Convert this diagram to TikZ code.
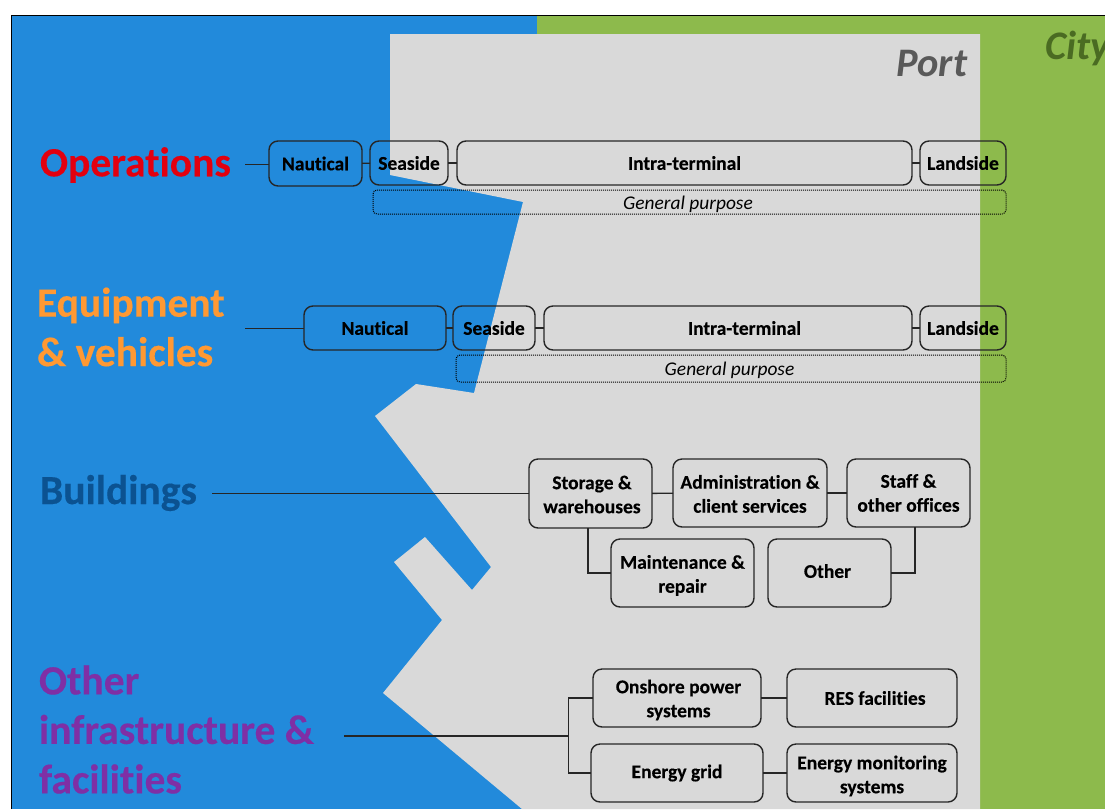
\documentclass[tikz,border=0pt]{standalone}
\usepackage{fontspec}
\setmainfont[Ligatures = NoCommon, BoldFeatures = {FakeBold = 0.3}]{Carlito}
\usepackage{tikz}
\usetikzlibrary{shapes.geometric}
\definecolor{seablue}{HTML}{228ADB}
\definecolor{citygreen}{HTML}{8DBA4C}
\definecolor{portgray}{HTML}{D9D9D9}
\definecolor{opsred}{HTML}{E3000F}
\definecolor{equiporange}{HTML}{FF9933}
\definecolor{buildblue}{HTML}{0B5291}
\definecolor{infrapurple}{HTML}{7F2FA5}
\definecolor{citydark}{HTML}{4A6B22}
\tikzset{
    areabox/.style = {rectangle, draw = black!85, line width = 1.4pt, rounded corners = 9pt, inner sep = 0pt, outer sep = 0pt, align = center, text = black, font = \fontsize{19.5}{24}\selectfont\bfseries},
    purposebox/.style = {rectangle, draw = black, densely dotted, line width = 1pt, rounded corners = 4pt, inner sep = 0pt, outer sep = 0pt, align = center, font = \fontsize{19.4}{22}\selectfont\itshape},
    sectlabel/.style = {inner sep = 0pt, outer sep = 0pt, anchor = west, align = left, font = \fontsize{41.5}{49.5}\selectfont\bfseries},
    lowtext/.style = {execute at begin node = {\rule{0pt}{#1}}},
    hightext/.style = {execute at begin node = {\rule[-4pt]{0pt}{4pt}}},
    link/.style = {draw = black!85, line width = 1.4pt}
}

\begin{document}
\begin{tikzpicture}[x = 1pt, y = -1pt]
        \path [use as bounding box, clip] (0, 0) rectangle (1105, 809);
        \fill [white] (0, 0) rectangle (1105, 809);
        \fill [seablue] (12, 16) rectangle (537, 809);
        \fill [citygreen] (537, 16) rectangle (1105, 809);
        \fill [portgray] (390, 34) -- (980, 34) -- (980, 809) -- (522, 809) -- (383, 693)
        -- (442, 620) -- (394, 562) -- (425, 537) -- (472, 590) -- (491, 567) -- (375, 416)
        -- (416, 384) -- (474, 393) -- (523, 202) -- (390, 175) -- cycle;
        \draw [line width = 1.5pt] (11.5, 809) -- (11.5, 15.5) -- (1105, 15.5);

        \node [inner sep = 0pt, font = \fontsize{40.5}{40.5}\selectfont\bfseries\itshape, text = black!65] (porttitle) at (932, 64) {Port};
        \node [inner sep = 0pt, anchor = west, font = \fontsize{40.5}{40.5}\selectfont\bfseries\itshape, text = citydark] (citytitle) at (1045, 48) {City};

        \node [sectlabel, text = opsred] (opslabel) at (40, 165) {Operations};
        \node [sectlabel, text = equiporange] (equiplabel) at (37, 327) {Equipment\\\& vehicles};
        \node [sectlabel, text = buildblue] (buildlabel) at (40, 493) {Buildings};
        \node [sectlabel, text = infrapurple] (infralabel) at (39, 729.5) {Other\\infrastructure \&\\facilities};

        \node [areabox, minimum width = 93pt, minimum height = 45pt] (opsnaut) at (315.5, 163.5) {Nautical};
        \node [areabox, minimum width = 78pt, minimum height = 44pt] (opssea) at (409, 163) {Seaside};
        \node [areabox, minimum width = 455pt, minimum height = 44pt] (opsintra) at (684.5, 163) {Intra-terminal};
        \node [areabox, minimum width = 86pt, minimum height = 44pt] (opsland) at (963, 163) {Landside};
        \node [purposebox, lowtext = 18pt, minimum width = 633pt, minimum height = 24pt] (opsgen) at (689.5, 202) {\hspace*{-3pt}General purpose};

        \node [areabox, minimum width = 142pt, minimum height = 44pt] (eqnaut) at (375, 328) {Nautical};
        \node [areabox, minimum width = 82pt, minimum height = 44pt] (eqsea) at (494, 328) {Seaside};
        \node [areabox, minimum width = 368pt, minimum height = 44pt] (eqintra) at (728, 328) {\hspace*{33pt}Intra-terminal};
        \node [areabox, minimum width = 86pt, minimum height = 44pt] (eqland) at (963, 328) {Landside};
        \node [purposebox, lowtext = 18pt, minimum width = 550pt, minimum height = 27pt] (eqgen) at (731, 368.5) {\hspace*{-3pt}General purpose};

        \node [areabox, lowtext = 39.5pt, minimum width = 123pt, minimum height = 69pt] (storage) at (590.5, 493.5) {\hspace*{3pt}Storage \&\\\hspace*{3pt}warehouses};
        \node [areabox, lowtext = 39.5pt, minimum width = 154pt, minimum height = 68pt] (admin) at (750, 493) {Administration \&\\client services};
        \node [areabox, minimum width = 123pt, minimum height = 68pt] (staff) at (908.5, 493) {Staff \&\\other offices};
        \node [areabox, lowtext = 42.5pt, minimum width = 143pt, minimum height = 68pt] (maint) at (682.5, 573) {Maintenance \&\\repair};
        \node [areabox, hightext, minimum width = 123pt, minimum height = 68pt] (otherbld) at (829.5, 573) {\hspace*{-4pt}Other};

        \node [areabox, lowtext = 41.5pt, minimum width = 168pt, minimum height = 58pt] (onshore) at (677, 698) {\hspace*{3pt}Onshore power\\\hspace*{3pt}systems};
        \node [areabox, minimum width = 170pt, minimum height = 58pt] (res) at (872, 698) {\hspace*{6pt}RES facilities};
        \node [areabox, minimum width = 172pt, minimum height = 58pt] (grid) at (677, 773) {Energy grid};
        \node [areabox, lowtext = 43.5pt, minimum width = 170pt, minimum height = 58pt] (monitor) at (872, 773) {Energy monitoring\\systems};

        \coordinate (opsstart) at (245, 164.5);
        \coordinate (eqstart) at (245, 328.5);
        \coordinate (buildstart) at (212, 493.5);
        \coordinate (infrastart) at (344, 736);
        \coordinate (infrajoin) at (568.5, 736);
        \coordinate (maintstart) at (588, 528);
        \coordinate (staffstart) at (915, 527);

        \draw [link] (opsstart) -- (opsstart -| opsnaut.west);
        \draw [link] (opsnaut) -- (opssea);
        \draw [link] (opssea) -- (opsintra);
        \draw [link] (opsintra) -- (opsland);

        \draw [link] (eqstart) -- (eqstart -| eqnaut.west);
        \draw [link] (eqnaut) -- (eqsea);
        \draw [link] (eqsea) -- (eqintra);
        \draw [link] (eqintra) -- (eqland);

        \draw [link] (buildstart) -- (storage);
        \draw [link] (storage) -- (admin);
        \draw [link] (admin) -- (staff);
        \draw [link] (maintstart) |- (maint);
        \draw [link] (staffstart) |- (otherbld);

        \draw [link] (infrastart) -- (infrajoin);
        \draw [link] (onshore) -| (infrajoin) |- (grid);
        \draw [link] (onshore) -- (res);
        \draw [link] (grid) -- (monitor);
    \end{tikzpicture}
\end{document}
